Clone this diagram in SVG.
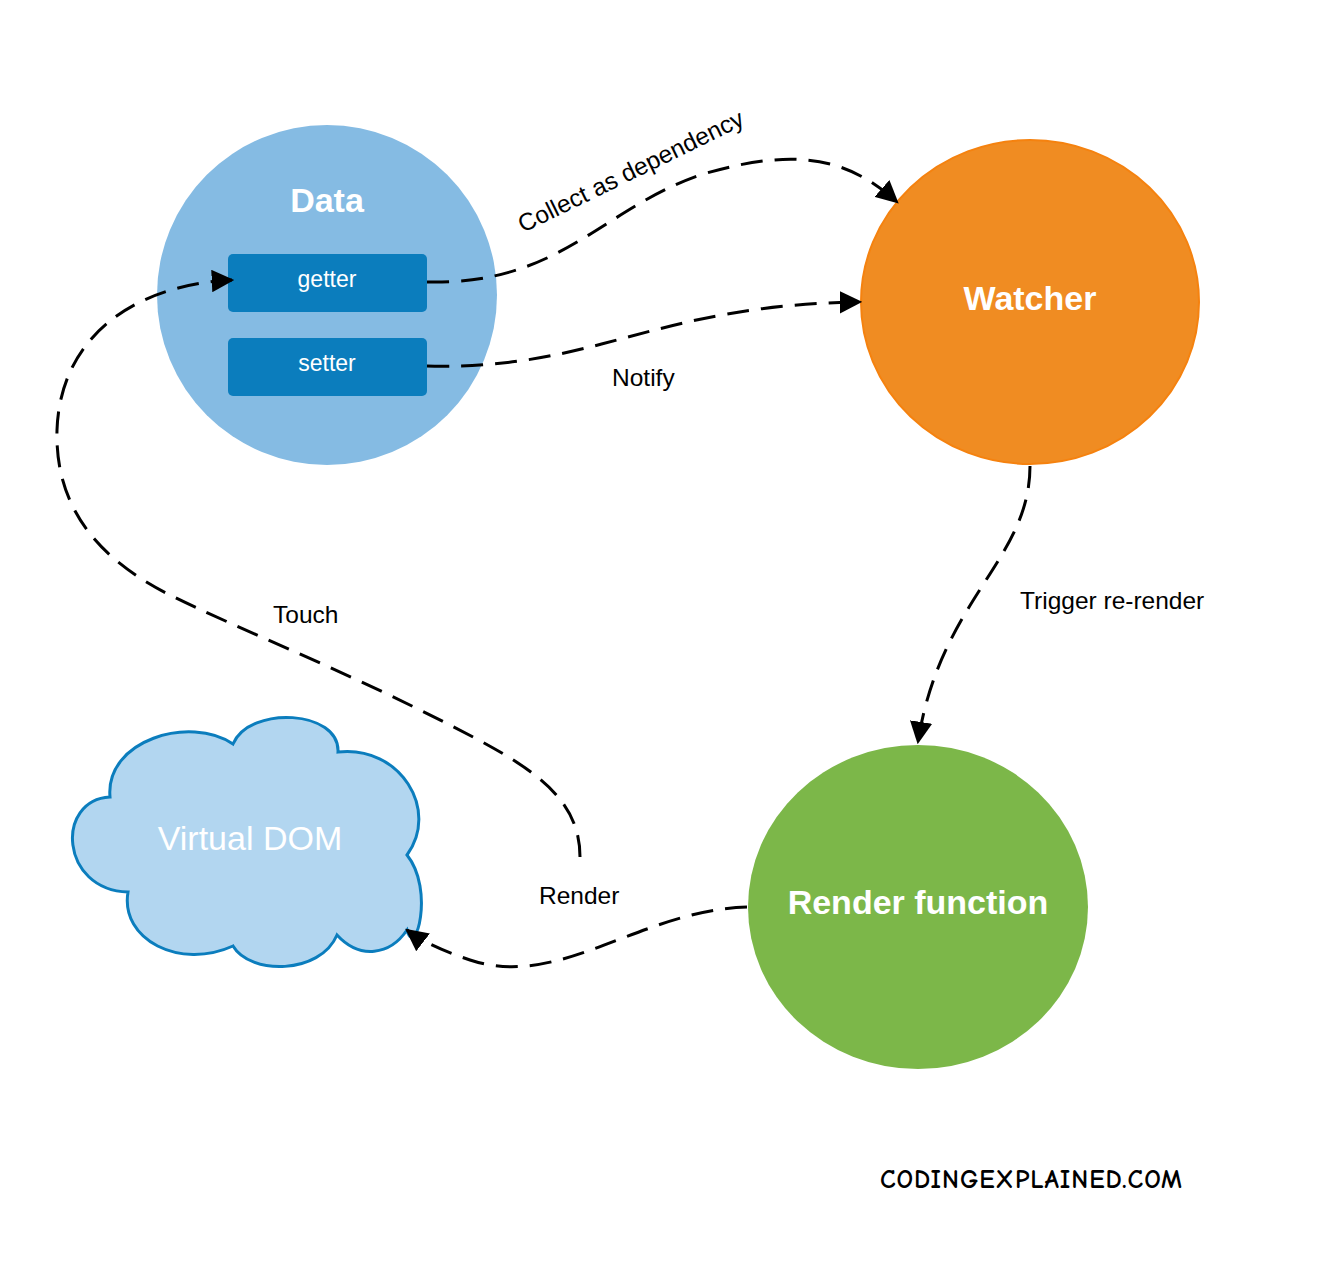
<svg xmlns="http://www.w3.org/2000/svg" width="1340" height="1279" viewBox="0 0 1340 1279">
<style>
.lbl{font-family:"Liberation Sans",Arial,sans-serif;font-size:24.5px;fill:#000}
.big{font-family:"Liberation Sans",Arial,sans-serif;font-weight:bold;font-size:34px;fill:#fff;text-anchor:middle}
.btn{font-family:"Liberation Sans",Arial,sans-serif;font-size:23px;fill:#fff;text-anchor:middle}
.c{fill:none;stroke:#000;stroke-width:3;stroke-dasharray:22 12}
</style>
<defs><marker id="m" viewBox="0 0 10 10" refX="9" refY="5" markerWidth="7.5" markerHeight="7.5" orient="auto"><path d="M0,0L10,5L0,10z" fill="#000"/></marker></defs>
<rect width="1340" height="1279" fill="#fff"/>
<g id="data"><circle cx="327" cy="295" r="170" fill="#85bbe3"/>
<text class="big" x="327" y="212" font-size="33">Data</text>
<rect x="228" y="254" width="199" height="58" rx="5" fill="#0b7dbd"/><text class="btn" x="327" y="287">getter</text>
<rect x="228" y="338" width="199" height="58" rx="5" fill="#0b7dbd"/><text class="btn" x="327" y="371">setter</text></g>
<g id="watcher"><ellipse cx="1030" cy="302" rx="169" ry="162" fill="#f08c22" stroke="#f5820f" stroke-width="2"/><text class="big" x="1030" y="310">Watcher</text></g>
<g id="render"><ellipse cx="918" cy="907" rx="170" ry="162" fill="#7cb749"/><text class="big" x="918" y="914">Render function</text></g>
<g id="vdom"><path d="M110,797 C105,740 190,715 233,744 C250,705 340,710 338,752 C400,745 440,810 407,855 C435,890 415,960 407,930 C390,955 360,960 337,935 C320,975 250,975 233,946 C180,970 120,940 128,892 C60,890 55,800 110,797 Z" fill="#b2d6f0" stroke="#0b7dbd" stroke-width="3"/>
<text x="250" y="850" font-family="'Liberation Sans',Arial,sans-serif" font-size="34" fill="#fff" text-anchor="middle">Virtual DOM</text></g>
<g id="connectors">
<path class="c" d="M427,282 C560,285 600,210 700,175 C800,145 850,160 897,202" marker-end="url(#m)"/>
<path class="c" d="M427,366 C600,370 650,305 860,302" marker-end="url(#m)"/>
<path class="c" d="M1030,466 C1030,560 940,600 918,742" marker-end="url(#m)"/>
<path class="c" d="M747,907 C640,910 560,990 470,960 C440,950 420,940 407,930" marker-end="url(#m)"/>
<path class="c" d="M580,857 C580,790 520,760 420,710 C330,665 230,625 170,595 C90,555 55,500 57,430 C60,340 130,285 232,280" marker-end="url(#m)"/>
</g>
<g id="labels">
<text class="lbl" x="0" y="0" transform="translate(523,233) rotate(-26)">Collect as dependency</text>
<text class="lbl" x="612" y="386">Notify</text>
<text class="lbl" x="1020" y="609">Trigger re-render</text>
<text class="lbl" x="273" y="623">Touch</text>
<text class="lbl" x="539" y="904">Render</text>
<text x="880" y="1188" font-family="'Comic Neue','DejaVu Sans',sans-serif" font-weight="bold" font-size="26" fill="#000" textLength="302">CODINGEXPLAINED.COM</text>
</g>
</svg>
